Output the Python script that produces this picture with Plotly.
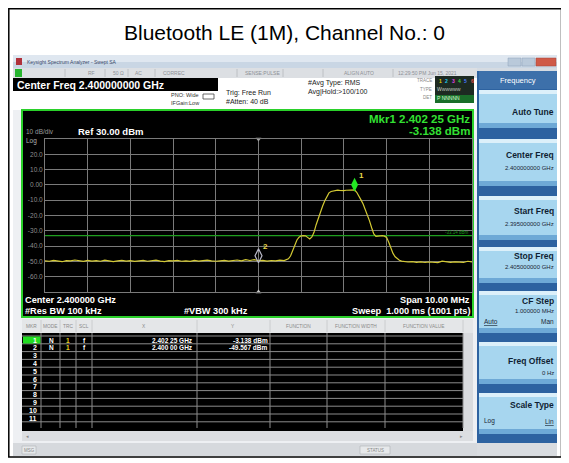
import plotly.graph_objects as go

# page body margin is 8px: the figure is drawn from (8, 8) of the window
OFF = 8
W, H = 569 - OFF, 463 - OFF
FONT = "Liberation Sans, Arial, sans-serif"

# ---------------- data ----------------
title_text = "Bluetooth LE (1M), Channel No.: 0"

start_ghz = 2.395
stop_ghz = 2.405
center_ghz = 2.400
ref_dbm = 30.0
bottom_dbm = -70.0
y_tick_vals = [20, 10, 0, -10, -20, -30, -40, -50, -60]
y_tick_text = ["20.0", "10.0", "0.00", "-10.0", "-20.0", "-30.0", "-40.0", "-50.0", "-60.0"]

left_start, left_step = 2.3950, 0.0001
left_dbm = [-49.6, -49.9, -49.3, -49.8, -50.2, -49.5, -49.7, -49.1, -49.6, -50.0,
            -49.4, -49.8, -49.5, -49.9, -49.2, -49.7, -50.1, -49.6, -49.3, -49.8,
            -49.5, -50.0, -49.7, -49.4, -49.9, -49.6, -49.2, -49.8, -50.1, -49.5,
            -49.7, -49.3, -49.9, -49.6, -50.0, -49.4, -49.8, -49.5, -49.2, -49.7,
            -49.9, -49.6, -49.3, -49.8, -49.5, -49.1, -49.7, -48.8, -49.4, -48.9,
            -49.567, -49.3, -49.8, -49.4, -49.6, -49.2, -49.5]
mid_start, mid_step = 2.40065, 0.00005
mid_dbm = [-49.0, -48.3, -46.5, -42.5, -39.0, -36.0, -34.2, -33.3,
           -33.1, -33.3, -34.3, -35.3, -34.0, -31.0, -26.0, -21.5, -17.5, -14.0,
           -10.5, -7.6, -5.2, -4.3, -4.0, -3.6, -3.4, -3.6, -3.9, -3.8,
           -3.5, -3.4, -3.6, -3.3, -3.2, -4.8, -7.0, -9.8, -12.5, -16.0,
           -19.5, -23.5, -28.0, -32.0, -33.7, -33.4, -33.1, -33.2, -33.5, -34.3,
           -37.5, -41.5, -44.8, -47.0, -48.3, -49.2, -49.8, -50.1]
right_start, right_step = 2.4035, 0.0001
right_dbm = [-50.4, -50.2, -50.6, -50.3, -50.7, -50.4, -50.5, -50.8,
             -49.8, -50.4, -50.6, -50.3, -50.5, -50.7, -49.9, -50.3]

mkr_ids = ["1", "2"]
mkr_ghz = [2.40225, 2.40000]
mkr_dbm = [-3.138, -49.567]
display_line_dbm = -33.14

table_rows = [["1", "N", "1", "f", "2.402 25 GHz", "-3.138 dBm"],
              ["2", "N", "1", "f", "2.400 00 GHz", "-49.567 dBm"]]

softkeys = [("Auto Tune", None), ("Center Freq", "2.400000000 GHz"), ("Start Freq", "2.395000000 GHz"),
            ("Stop Freq", "2.405000000 GHz"), ("CF Step", "1.000000 MHz"), ("Freq Offset", "0 Hz"),
            ("Scale Type", None)]

# ---------------- build trace ----------------
trace_f = ([round(left_start + i * left_step, 6) for i in range(len(left_dbm))] +
           [round(mid_start + i * mid_step, 6) for i in range(len(mid_dbm))] +
           [round(right_start + i * right_step, 6) for i in range(len(right_dbm))])
trace_db = left_dbm + mid_dbm + right_dbm

shapes, annots = [], []


def px(x):
    return (x - OFF) / W


def py(y):
    return 1 - (y - OFF) / H


def R(x0, y0, x1, y1, fill, lc=None, lw=0, layer="below"):
    shapes.append(dict(type="rect", xref="paper", yref="paper", x0=px(x0), x1=px(x1),
                       y0=py(y1), y1=py(y0), fillcolor=fill,
                       line=dict(color=lc or fill, width=lw), layer=layer))


def L(x0, y0, x1, y1, color, lw=1, layer="below"):
    shapes.append(dict(type="line", xref="paper", yref="paper", x0=px(x0), x1=px(x1),
                       y0=py(y0), y1=py(y1), line=dict(color=color, width=lw), layer=layer))


def T(x, y, text, size=7, color="#000", anchor="left", bold=False):
    annots.append(dict(xref="paper", yref="paper", x=px(x), y=py(y),
                       text=("<b>%s</b>" % text) if bold else text, showarrow=False,
                       xanchor=anchor, yanchor="middle", borderpad=0,
                       font=dict(size=size, color=color, family=FONT)))


# outer frame + title
R(8.8, 8.8, 561.5, 457, "white", "black", 1.5)
T(284.5, 32, title_text, 21, "#000", "center")

# screenshot background
R(13, 55, 557, 456, "#eef0f3")
# window title bar
R(13, 55, 557, 62, "#dfe7f0")
R(13, 62, 557, 68, "#c9d6e4")
R(16, 58, 22, 65, "#b0303a")
T(26, 61.5, "Keysight Spectrum Analyzer - Swept SA", 5, "#3a4a6a")
R(508, 58, 521, 66, "#b9c9da", "#8fa3ba", 0.5)
R(522, 58, 535, 66, "#b9c9da", "#8fa3ba", 0.5)
R(536, 58, 556, 66, "#cf5a48", "#a5443a", 0.5)

# status row
R(13, 68, 478, 78, "#dcdfe3")
R(15, 69, 22, 77, "#27b530")
for xs in [65, 105, 128, 155, 237, 283, 323, 393]:
    L(xs, 69, xs, 77, "#b5b8bc", 0.8)
for x, s in [(87, "RF"), (112, "50 Ω"), (134, "AC"), (162, "CORREC"), (244, "SENSE:PULSE"),
             (343, "ALIGN AUTO"), (397, "12:29:50 PM Jun 15, 2021")]:
    T(x, 73, s, 5, "#8d9096")

# info area
R(13, 78, 478, 110, "#ffffff")
R(13, 78, 218, 91, "#000000")
T(16, 84.5, "Center Freq 2.400000000 GHz", 10.5, "#ffffff", bold=True)
T(200, 95, "PNO: Wide", 5.5, "#333", "right")
T(200, 103, "IFGain:Low", 5.5, "#333", "right")
R(203, 94, 214, 99, "#ffffff", "#444", 0.8)
T(225, 93, "Trig: Free Run", 7, "#222")
T(225, 102, "#Atten: 40 dB", 7, "#222")
T(307, 83, "#Avg Type: RMS", 7, "#222")
T(307, 92, "Avg|Hold:>100/100", 7, "#222")
T(433, 80, "TRACE", 4.5, "#888", "right")
T(433, 89, "TYPE", 4.5, "#888", "right")
T(433, 98, "DET", 4.5, "#888", "right")
R(435, 76, 474, 103, "#1d2a22")
R(435, 95, 474, 103, "#1a6e2a")
for i, c in enumerate(["#e6d200", "#22c8e8", "#e040e0", "#40d040", "#4a7cff", "#e05050"]):
    T(438 + i * 6.3, 80.5, str(i + 1), 5, c, bold=True)
T(436, 89, "W<span style='font-size:4px'>WWWWW</span>", 5, "#cfd8d0")
T(436, 98.5, "P NNNNN", 5, "#d8ffd8")

# main screen (black, green border)
R(22, 110, 473, 317, "#000000", "#2ad02a", 2)
T(25, 131.5, "10 dB/div", 6.5, "#9a9a9a")
T(25, 141, "Log", 6.5, "#b0b0b0")
T(77, 132, "Ref 30.00 dBm", 9.5, "#ffffff", bold=True)
T(471, 119, "Mkr1 2.402 25 GHz", 11.5, "#33e033", "right", True)
T(471, 131, "-3.138 dBm", 11.5, "#33e033", "right", True)
T(470, 232, "-33.14 dBm", 4.5, "#1c9a1c", "right")
T(24, 299.5, "Center 2.400000 GHz", 9.2, "#ffffff", bold=True)
T(24, 310.5, "#Res BW 100 kHz", 9.2, "#ffffff", bold=True)
T(183, 310.5, "#VBW 300 kHz", 9.2, "#ffffff", bold=True)
T(471, 299.5, "Span 10.00 MHz", 9.2, "#ffffff", "right", True)
T(471, 310.5, "Sweep  1.000 ms (1001 pts)", 9.2, "#ffffff", "right", True)

# marker table
R(22, 319, 473, 333, "#e4e6e8")
R(22, 333, 473, 431, "#000000")
R(463, 333, 473, 431, "#d9dbde")
R(22, 431, 473, 441, "#dcdee1")
col_x = [41, 60, 76, 92, 197, 270, 327, 385, 463]
for xc in col_x:
    L(xc, 320, xc, 332, "#c4c6c9", 0.8)
    L(xc, 333, xc, 428, "#8c8c8c", 1)
row_h = 7.8
for k in range(12):
    yl = 336 + row_h * k
    L(22, yl, 463, yl, "#8c8c8c", 1)
for x, s in [(31, "MKR"), (50, "MODE"), (68, "TRC"), (84, "SCL"), (144, "X"), (233, "Y"),
             (298, "FUNCTION"), (356, "FUNCTION WIDTH"), (424, "FUNCTION VALUE")]:
    T(x, 326.5, s, 4.8, "#8a8a8a", "center")
R(23, 336.5, 40.5, 343.5, "#22dd22")
for i in range(11):
    yc = 340 + row_h * i
    T(38, yc, str(i + 1), 7, "#ffffff", "right", True)
for i, row in enumerate(table_rows):
    yc = 340 + row_h * i
    T(51, yc, row[1], 6.5, "#ffffff", "center", True)
    T(68, yc, row[2], 6.5, "#e8d020", "center", True)
    T(84, yc, row[3], 6.5, "#ffffff", "center", True)
    T(194, yc, row[4], 6.5, "#ffffff", "right", True)
    T(269, yc, row[5], 6.5, "#ffffff", "right", True)
T(25, 436, "◂", 5, "#888")
T(459, 436, "▸", 5, "#888")

# message / status bar
R(13, 443, 478, 456, "#d6d9dd")
R(22, 446, 36, 454, "#e6e8ea", "#b0b3b7", 0.6)
T(29, 450, "MSG", 4.5, "#888", "center")
R(360, 446, 390, 454, "#e6e8ea", "#b0b3b7", 0.6)
T(375, 450, "STATUS", 4.5, "#888", "center")

# softkey panel
R(477, 68, 557, 443, "#2d62a0")
R(477, 68, 557, 71, "#d5dbe2")
R(479, 71, 557, 89, "#3d70aa")
T(518, 80, "Frequency", 7.5, "#ffffff", "center")
btn = [(90, 128), (139, 186), (196, 240), (247, 283), (291, 333), (342, 384), (393, 434)]
title_y = [112, 155, 211, 256, 301, 361, 405]
value_y = [None, 168, 224, 267, 311, 373, None]
for (b0, b1), (name, val), ty, vy in zip(btn, softkeys, title_y, value_y):
    R(479, b0, 557, b1, "#a7d6ef")
    R(479, b0, 557, b0 + 4, "#dcf0fa")
    R(479, b1 - 5, 557, b1, "#6ea9d6")
    T(555, ty, name, 8.5, "#0f1e33", "right", True)
    if val:
        T(555, vy, val, 6, "#1a2636", "right")
T(483, 321, "<u>Auto</u>", 6.5, "#1a2636")
T(555, 321, "Man", 6.5, "#1a2636", "right")
T(483, 421, "Log", 6.5, "#1a2636")
T(555, 421, "<u>Lin</u>", 6.5, "#1a2636", "right")
R(477, 443, 557, 456, "#d9dce0")

# ---------------- figure ----------------
GRID = "#7a7a7a"
fig = go.Figure()
fig.add_trace(go.Scatter(x=[start_ghz, stop_ghz], y=[display_line_dbm, display_line_dbm], mode="lines",
                         line=dict(color="#1f9e1f", width=1.2), hoverinfo="skip"))
fig.add_trace(go.Scatter(x=trace_f, y=trace_db, mode="lines",
                         line=dict(color="#d4ca34", width=1.2), hoverinfo="skip"))
fig.add_trace(go.Scatter(x=[center_ghz], y=[ref_dbm], mode="markers", cliponaxis=False,
                         marker=dict(symbol="triangle-down", size=5, color="#a0a0a0"), hoverinfo="skip"))
fig.add_trace(go.Scatter(x=[center_ghz], y=[bottom_dbm], mode="markers", cliponaxis=False,
                         marker=dict(symbol="triangle-up", size=5, color="#c8c8c8"), hoverinfo="skip"))
fig.add_trace(go.Scatter(x=[mkr_ghz[1]], y=[mkr_dbm[1]], mode="markers",
                         marker=dict(symbol="diamond-tall-open", size=10, color="#b8b8c8",
                                     line=dict(width=1.2), angle=180, standoff=5), hoverinfo="skip"))
fig.add_trace(go.Scatter(x=[mkr_ghz[0]], y=[mkr_dbm[0]], mode="markers",
                         marker=dict(symbol="diamond-tall", size=10, color="#22e822", angle=180, standoff=5),
                         hoverinfo="skip"))
for mid, fx, dv in zip(mkr_ids, mkr_ghz, mkr_dbm):
    annots.append(dict(x=fx, y=dv, xref="x", yref="y", text="<b>%s</b>" % mid, showarrow=False,
                       xshift=7, yshift=14, font=dict(size=8, color="#e8d84a", family=FONT)))

fig.update_layout(
    width=W, height=H, margin=dict(l=0, r=0, t=0, b=0),
    paper_bgcolor="white", plot_bgcolor="rgba(0,0,0,0)", showlegend=False, hovermode=False,
    xaxis=dict(domain=[px(45), px(472)], range=[start_ghz, stop_ghz], tick0=start_ghz, dtick=0.001,
               showgrid=True, gridcolor=GRID, gridwidth=1, showticklabels=False, zeroline=False,
               showline=True, mirror=True, linecolor=GRID, linewidth=1, ticks=""),
    yaxis=dict(domain=[py(292), py(139)], range=[bottom_dbm, ref_dbm],
               tickvals=y_tick_vals, ticktext=y_tick_text, showgrid=True, gridcolor=GRID, gridwidth=1,
               tickfont=dict(size=6.5, color="#8f8f8f", family=FONT), zeroline=False,
               showline=True, mirror=True, linecolor=GRID, linewidth=1, ticks=""),
    shapes=shapes, annotations=annots,
)
fig.write_html("out.html")
